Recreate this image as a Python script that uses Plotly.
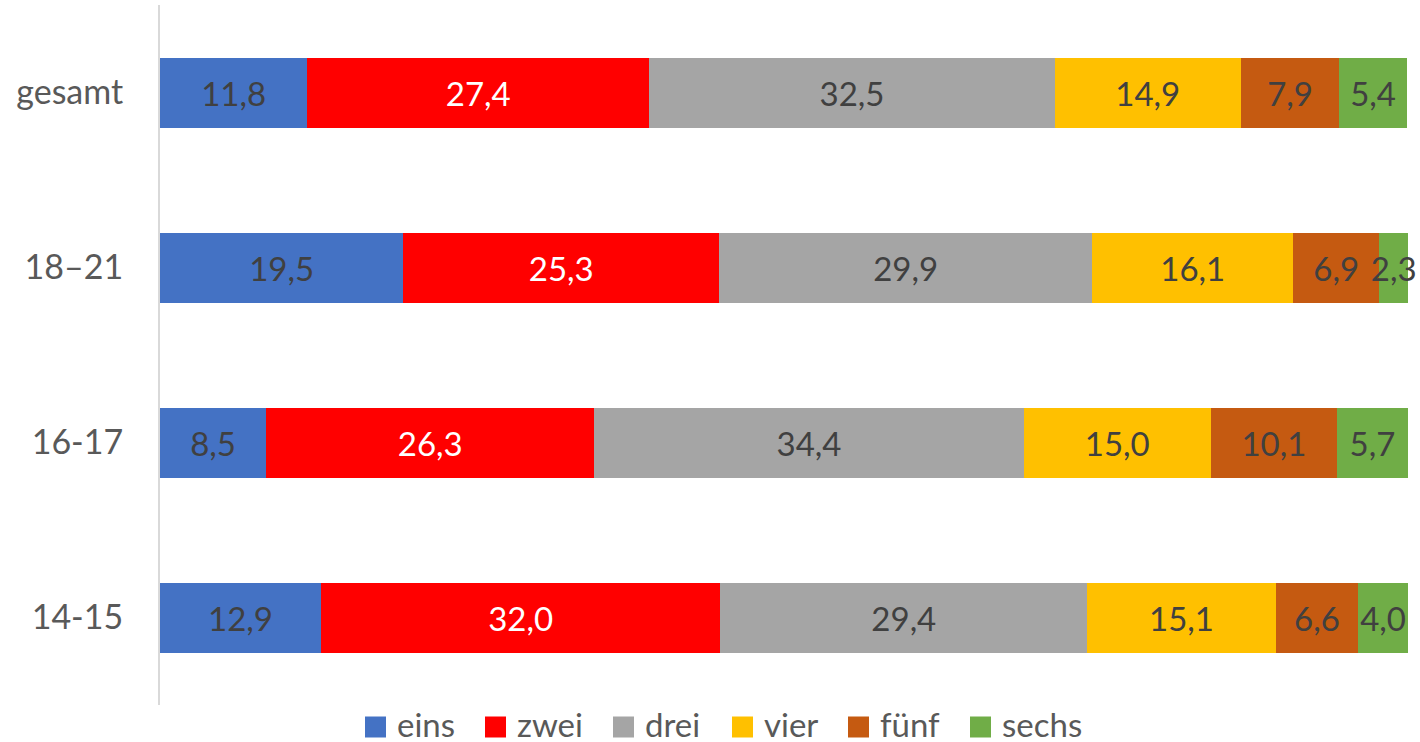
import plotly.graph_objects as go

categories = ["14-15", "16-17", "18–21", "gesamt"]
series_names = ["eins", "zwei", "drei", "vier", "fünf", "sechs"]
eins = [12.9, 8.5, 19.5, 11.8]
zwei = [32.0, 26.3, 25.3, 27.4]
drei = [29.4, 34.4, 29.9, 32.5]
vier = [15.1, 15.0, 16.1, 14.9]
fuenf = [6.6, 10.1, 6.9, 7.9]
sechs = [4.0, 5.7, 2.3, 5.4]

values = [eins, zwei, drei, vier, fuenf, sechs]
colors = ["#4472C4", "#FF0000", "#A5A5A5", "#FFC000", "#C55A11", "#70AD47"]
text_colors = ["#404040", "#FFFFFF", "#404040", "#404040", "#404040", "#404040"]

FONT = "Lato"
W, H = 1420, 742
ML, MR, MT, MB = 160, 12, 5, 37
PW, PH = W - ML - MR, H - MT - MB

fig = go.Figure()
for name, vals, col, tcol in zip(series_names, values, colors, text_colors):
    fig.add_trace(go.Bar(
        y=categories, x=vals, name=name, orientation="h",
        marker=dict(color=col, line=dict(width=0)),
        text=[f"{v:.1f}".replace(".", ",") for v in vals],
        textposition="inside", insidetextanchor="middle", textangle=0,
        constraintext="none", cliponaxis=False,
        textfont=dict(family=FONT, size=33, color=tcol),
        width=0.4, showlegend=False,
    ))

# manual legend (larger squares like the reference)
legend_left_px = [365, 485, 613, 732, 848, 970]
sq = 21
yc_sq = 727
yc_txt = 724
for name, col, lx in zip(series_names, colors, legend_left_px):
    fig.add_shape(type="rect", xref="paper", yref="paper",
                  x0=(lx - ML) / PW, x1=(lx + sq - ML) / PW,
                  y0=(MT + PH - (yc_sq - sq / 2)) / PH, y1=(MT + PH - (yc_sq + sq / 2)) / PH,
                  fillcolor=col, line=dict(width=0))
    fig.add_annotation(xref="paper", yref="paper", x=(lx + sq + 9 - ML) / PW,
                       y=(MT + PH - yc_txt) / PH, xanchor="left", yanchor="middle",
                       text=name, showarrow=False,
                       font=dict(family=FONT, size=33, color="#595959"))

fig.update_layout(
    barmode="stack",
    width=W, height=H,
    margin=dict(l=ML, r=MR, t=MT, b=MB, autoexpand=False),
    plot_bgcolor="white", paper_bgcolor="white",
    font=dict(family=FONT, color="#595959"),
    showlegend=False,
    xaxis=dict(range=[0, 100], showgrid=False, showticklabels=False, zeroline=False,
               showline=False, fixedrange=True, automargin=False),
    yaxis=dict(type="category", categoryorder="array", categoryarray=categories,
               showline=True, linecolor="#D9D9D9", linewidth=2, showgrid=False,
               ticks="", ticklabelstandoff=28, automargin=False,
               tickfont=dict(family=FONT, size=34, color="#595959")),
)

fig.write_html("out.html", config={"displayModeBar": False},
               post_script="document.body.style.margin='0';document.body.style.overflow='hidden';")
